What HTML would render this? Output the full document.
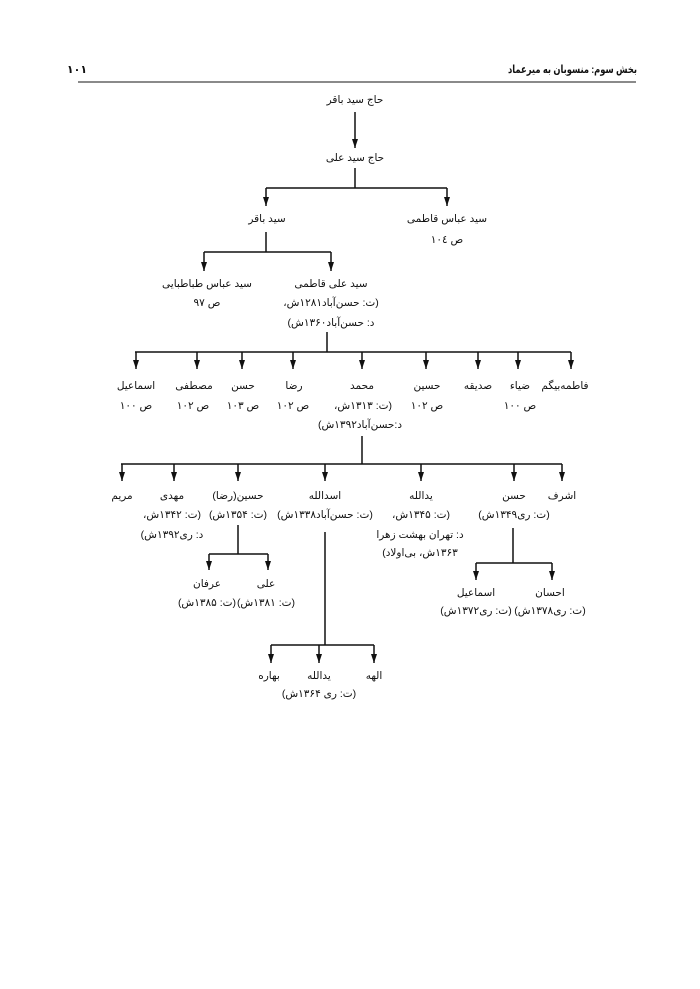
<!DOCTYPE html>
<html><head><meta charset="utf-8"><style>
html,body{margin:0;padding:0;background:#fff;}
svg{display:block;}
text{font-family:"Liberation Sans","Noto Sans CJK SC","DejaVu Sans",sans-serif;font-size:10.5px;fill:#111;text-anchor:middle;direction:rtl;unicode-bidi:embed;}
.h{font-weight:bold;font-size:11px;}
</style></head><body>
<svg width="700" height="989" viewBox="0 0 700 989" xmlns="http://www.w3.org/2000/svg">
<defs><marker id="a" markerWidth="9" markerHeight="6" refX="9" refY="3" orient="auto" markerUnits="userSpaceOnUse"><path d="M0,0 L9,3 L0,6 Z" fill="#111"/></marker></defs>
<line x1="78" y1="82" x2="636" y2="82" stroke="#444" stroke-width="1.3"/>
<text class="h" x="637" y="73" style="text-anchor:start" textLength="129" lengthAdjust="spacingAndGlyphs">بخش سوم: منسوبان به میرعماد</text>
<text class="h" x="77" y="73">۱۰۱</text>

<g stroke="#111" stroke-width="1.5" fill="none">
<line x1="355" y1="112" x2="355" y2="148" marker-end="url(#a)"/>
<line x1="355" y1="168" x2="355" y2="188"/>
<line x1="266" y1="188" x2="447" y2="188"/>
<line x1="266" y1="188" x2="266" y2="206" marker-end="url(#a)"/>
<line x1="447" y1="188" x2="447" y2="206" marker-end="url(#a)"/>
<line x1="266" y1="232" x2="266" y2="252"/>
<line x1="204" y1="252" x2="331" y2="252"/>
<line x1="204" y1="252" x2="204" y2="271" marker-end="url(#a)"/>
<line x1="331" y1="252" x2="331" y2="271" marker-end="url(#a)"/>
<line x1="327" y1="332" x2="327" y2="352"/>
<line x1="135" y1="352" x2="571" y2="352"/>
<line x1="136" y1="352" x2="136" y2="369" marker-end="url(#a)"/>
<line x1="197" y1="352" x2="197" y2="369" marker-end="url(#a)"/>
<line x1="242" y1="352" x2="242" y2="369" marker-end="url(#a)"/>
<line x1="293" y1="352" x2="293" y2="369" marker-end="url(#a)"/>
<line x1="362" y1="352" x2="362" y2="369" marker-end="url(#a)"/>
<line x1="426" y1="352" x2="426" y2="369" marker-end="url(#a)"/>
<line x1="478" y1="352" x2="478" y2="369" marker-end="url(#a)"/>
<line x1="518" y1="352" x2="518" y2="369" marker-end="url(#a)"/>
<line x1="571" y1="352" x2="571" y2="369" marker-end="url(#a)"/>
<line x1="362" y1="436" x2="362" y2="464"/>
<line x1="121" y1="464" x2="562" y2="464"/>
<line x1="122" y1="464" x2="122" y2="481" marker-end="url(#a)"/>
<line x1="174" y1="464" x2="174" y2="481" marker-end="url(#a)"/>
<line x1="238" y1="464" x2="238" y2="481" marker-end="url(#a)"/>
<line x1="325" y1="464" x2="325" y2="481" marker-end="url(#a)"/>
<line x1="421" y1="464" x2="421" y2="481" marker-end="url(#a)"/>
<line x1="514" y1="464" x2="514" y2="481" marker-end="url(#a)"/>
<line x1="562" y1="464" x2="562" y2="481" marker-end="url(#a)"/>
<line x1="238" y1="525" x2="238" y2="554"/>
<line x1="209" y1="554" x2="268" y2="554"/>
<line x1="209" y1="554" x2="209" y2="570" marker-end="url(#a)"/>
<line x1="268" y1="554" x2="268" y2="570" marker-end="url(#a)"/>
<line x1="513" y1="528" x2="513" y2="563"/>
<line x1="476" y1="563" x2="552" y2="563"/>
<line x1="476" y1="563" x2="476" y2="580" marker-end="url(#a)"/>
<line x1="552" y1="563" x2="552" y2="580" marker-end="url(#a)"/>
<line x1="325" y1="532" x2="325" y2="645"/>
<line x1="271" y1="645" x2="374" y2="645"/>
<line x1="271" y1="645" x2="271" y2="663" marker-end="url(#a)"/>
<line x1="319" y1="645" x2="319" y2="663" marker-end="url(#a)"/>
<line x1="374" y1="645" x2="374" y2="663" marker-end="url(#a)"/>
</g>

<text x="355" y="103">حاج سید باقر</text>
<text x="355" y="161">حاج سید علی</text>
<text x="267" y="222">سید باقر</text>
<text x="447" y="222">سید عباس قاطمی</text>
<text x="447" y="243">ص ۱۰٤</text>
<text x="207" y="287">سید عباس طباطبایی</text>
<text x="207" y="306">ص ۹۷</text>
<text x="331" y="287">سید علی قاطمی</text>
<text x="331" y="306">(ت: حسن‌آباد۱۲۸۱ش،</text>
<text x="331" y="326">د: حسن‌آباد۱۳۶۰ش)</text>

<text x="136" y="389">اسماعیل</text><text x="136" y="409">ص ۱۰۰</text>
<text x="194" y="389">مصطفی</text><text x="193" y="409">ص ۱۰۲</text>
<text x="243" y="389">حسن</text><text x="243" y="409">ص ۱۰۳</text>
<text x="294" y="389">رضا</text><text x="293" y="409">ص ۱۰۲</text>
<text x="362" y="389">محمد</text><text x="363" y="409">(ت: ۱۳۱۳ش،</text>
<text x="360" y="428">د:حسن‌آباد۱۳۹۲ش)</text>
<text x="427" y="389">حسین</text><text x="427" y="409">ص ۱۰۲</text>
<text x="478" y="389">صدیقه</text>
<text x="520" y="389">ضیاء</text><text x="520" y="409">ص ۱۰۰</text>
<text x="565" y="389">فاطمه‌بیگم</text>

<text x="122" y="499">مریم</text>
<text x="172" y="499">مهدی</text><text x="172" y="518">(ت: ۱۳۴۲ش،</text><text x="172" y="538">د: ری۱۳۹۲ش)</text>
<text x="238" y="499">حسین(رضا)</text><text x="238" y="518">(ت: ۱۳۵۴ش)</text>
<text x="325" y="499">اسدالله</text><text x="325" y="518">(ت: حسن‌آباد۱۳۳۸ش)</text>
<text x="421" y="499">یدالله</text><text x="421" y="518">(ت: ۱۳۴۵ش،</text>
<text x="420" y="538">د: تهران بهشت زهرا</text><text x="420" y="556">۱۳۶۳ش، بی‌اولاد)</text>
<text x="514" y="499">حسن</text><text x="514" y="518">(ت: ری۱۳۴۹ش)</text>
<text x="562" y="499">اشرف</text>

<text x="207" y="587">عرفان</text><text x="207" y="606">(ت: ۱۳۸۵ش)</text>
<text x="266" y="587">علی</text><text x="266" y="606">(ت: ۱۳۸۱ش)</text>
<text x="476" y="596">اسماعیل</text><text x="476" y="614">(ت: ری۱۳۷۲ش)</text>
<text x="550" y="596">احسان</text><text x="550" y="614">(ت: ری۱۳۷۸ش)</text>

<text x="269" y="679">بهاره</text>
<text x="319" y="679">یدالله</text><text x="319" y="697">(ت: ری ۱۳۶۴ش)</text>
<text x="374" y="679">الهه</text>
</svg>
</body></html>
